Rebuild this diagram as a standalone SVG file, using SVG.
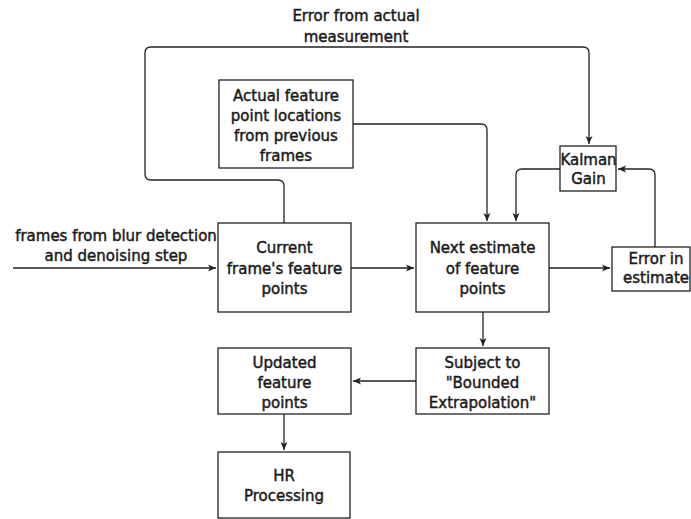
<svg xmlns="http://www.w3.org/2000/svg" width="691" height="519" viewBox="0 0 691 519">
<defs>
<marker id="arr" markerWidth="10" markerHeight="10" refX="8" refY="4" orient="auto" markerUnits="userSpaceOnUse">
<path d="M0,0.5 L8,4 L0,7.5 L2,4 Z" fill="#222"/>
</marker>
</defs>
<style>
.box{fill:#fff;stroke:#222;stroke-width:1.3}
.lbl{font-family:"DejaVu Sans",sans-serif;font-size:15px;fill:#1a1a1a;stroke:#1a1a1a;stroke-width:0.45;text-anchor:middle}
.con{fill:none;stroke:#222;stroke-width:1.3}
</style>
<rect width="691" height="519" fill="#fff"/>
<g id="connectors">
<path class="con" d="M13,268 H216" marker-end="url(#arr)"/>
<path class="con" d="M351,268 H414" marker-end="url(#arr)"/>
<path class="con" d="M549,268 H610" marker-end="url(#arr)"/>
<path class="con" d="M655,247 V175 Q655,169 649,169 H618" marker-end="url(#arr)"/>
<path class="con" d="M560,169 H522 Q516,169 516,175 V221" marker-end="url(#arr)"/>
<path class="con" d="M353,124 H481 Q487,124 487,130 V221" marker-end="url(#arr)"/>
<path class="con" d="M284,223 V186 Q284,180 278,180 H151 Q145,180 145,174 V53 Q145,47 151,47 H583 Q589,47 589,53 V144" marker-end="url(#arr)"/>
<path class="con" d="M483,312 V346" marker-end="url(#arr)"/>
<path class="con" d="M416,381 H353" marker-end="url(#arr)"/>
<path class="con" d="M284,414 V450" marker-end="url(#arr)"/>
</g>
<g id="label-error-measurement">
<text class="lbl" x="356" y="21">Error from actual</text>
<text class="lbl" x="356" y="42">measurement</text>
</g>
<g id="label-input">
<text class="lbl" x="116" y="241">frames from blur detection</text>
<text class="lbl" x="116" y="261">and denoising step</text>
</g>
<g id="actual">
<rect class="box" x="219" y="80" width="134" height="88"/>
<text class="lbl" x="286" y="101">Actual feature</text>
<text class="lbl" x="286" y="121">point locations</text>
<text class="lbl" x="286" y="141">from previous</text>
<text class="lbl" x="286" y="161">frames</text>
</g>
<g id="kalman">
<rect class="box" x="560" y="146" width="56" height="45"/>
<text class="lbl" x="588.5" y="165">Kalman</text>
<text class="lbl" x="588.5" y="184">Gain</text>
</g>
<g id="current">
<rect class="box" x="218" y="223" width="133" height="89"/>
<text class="lbl" x="284.5" y="253">Current</text>
<text class="lbl" x="284.5" y="274">frame's feature</text>
<text class="lbl" x="284.5" y="294">points</text>
</g>
<g id="next">
<rect class="box" x="416" y="223" width="133" height="89"/>
<text class="lbl" x="482.5" y="253">Next estimate</text>
<text class="lbl" x="482.5" y="274">of feature</text>
<text class="lbl" x="482.5" y="294">points</text>
</g>
<g id="error">
<rect class="box" x="612" y="247" width="78" height="44"/>
<text class="lbl" x="656" y="264">Error in</text>
<text class="lbl" x="656" y="283">estimate</text>
</g>
<g id="subject">
<rect class="box" x="416" y="348" width="133" height="66"/>
<text class="lbl" x="482.5" y="368">Subject to</text>
<text class="lbl" x="482.5" y="388">"Bounded</text>
<text class="lbl" x="482.5" y="408">Extrapolation"</text>
</g>
<g id="updated">
<rect class="box" x="218" y="348" width="133" height="66"/>
<text class="lbl" x="284.5" y="368">Updated</text>
<text class="lbl" x="284.5" y="388">feature</text>
<text class="lbl" x="284.5" y="408">points</text>
</g>
<g id="hr">
<rect class="box" x="218" y="452" width="132" height="66"/>
<text class="lbl" x="284" y="481">HR</text>
<text class="lbl" x="284" y="501">Processing</text>
</g>
</svg>
